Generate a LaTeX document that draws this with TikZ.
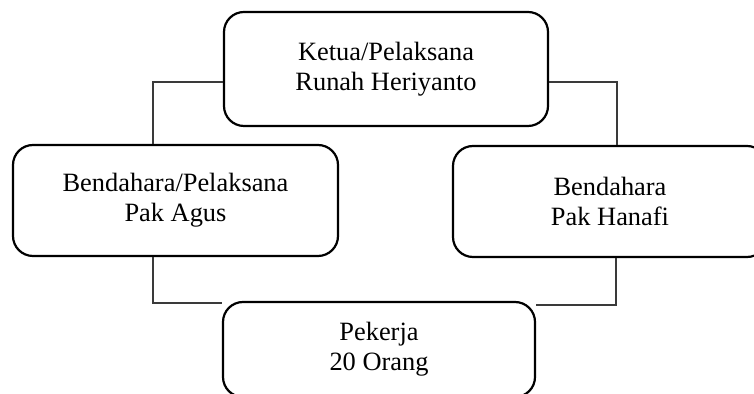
\documentclass[tikz,border=0pt]{standalone}
\usepackage{fontspec}
\setmainfont{Liberation Serif}
\usepackage{tikz}
\definecolor{lcol}{HTML}{3A3A3A}

\begin{document}
\begin{tikzpicture}[x=0.5pt,y=-0.5pt,
  box/.style={draw=black,line width=1.1pt,rounded corners=10pt,align=center,
    inner sep=0pt,font=\fontsize{13.2}{15}\selectfont},
  link/.style={draw=lcol,line width=0.55pt}]
\useasboundingbox (0,0) rectangle (754,394);
\clip (0,0) rectangle (754,394);
% boxes
\node[box,minimum width=162pt,minimum height=57pt] (ketua) at (386,69)
  {Ketua/Pelaksana\\Runah Heriyanto};
\node[box,minimum width=162.5pt,minimum height=55.5pt] (bpel) at (175.5,200.5)
  {Bendahara/Pelaksana\\Pak Agus};
\node[box,minimum width=157pt,minimum height=55.5pt] (bend) at (610,201.5)
  {Bendahara\\Pak Hanafi};
\node[box,minimum width=156pt,minimum height=47.5pt] (pekerja) at (379,349.5)
  {Pekerja\\20 Orang};
% corners of the links
\coordinate (cl) at (153,82);
\coordinate (cr) at (617,82);
\coordinate (bl) at (153,303);
\coordinate (br) at (616,305);
% top links
\draw[link] (ketua.west |- cl) -- (cl) -- (cl |- bpel.north);
\draw[link] (ketua.east |- cr) -- (cr) -- (cr |- bend.north);
% bottom links
\draw[link] (bl |- bpel.south) -- (bl) -- (pekerja.west |- bl);
\draw[link] (br |- bend.south) -- (br) -- (pekerja.east |- br);
\end{tikzpicture}
\end{document}
